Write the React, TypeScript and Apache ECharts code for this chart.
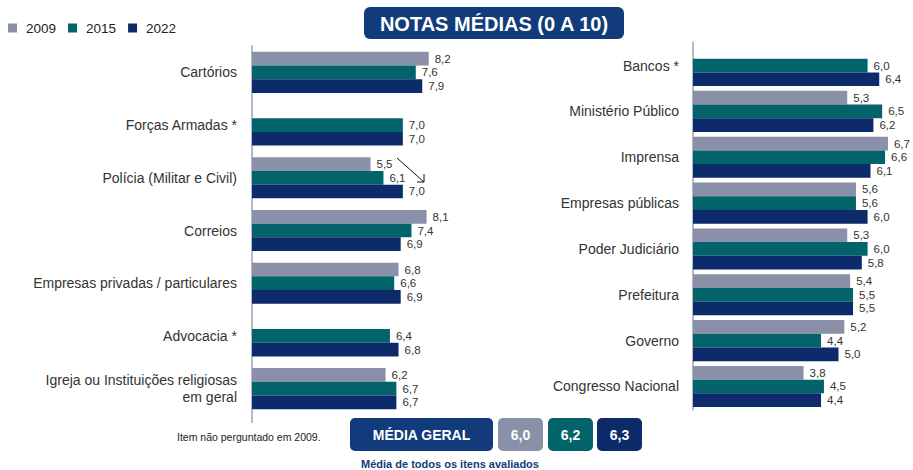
import React, { useEffect, useRef } from "react";
import * as echarts from "echarts";

const years = ["2009", "2015", "2022"];
const colors = ["#8990a8", "#03636a", "#0d2a6b"];

const leftCategories = [
  "Cartórios",
  "Forças Armadas *",
  "Polícia (Militar e Civil)",
  "Correios",
  "Empresas privadas / particulares",
  "Advocacia *",
  "Igreja ou Instituições religiosas\nem geral",
];
const left2009: (number | null)[] = [8.2, null, 5.5, 8.1, 6.8, null, 6.2];
const left2015: (number | null)[] = [7.6, 7.0, 6.1, 7.4, 6.6, 6.4, 6.7];
const left2022: (number | null)[] = [7.9, 7.0, 7.0, 6.9, 6.9, 6.8, 6.7];

const rightCategories = [
  "Bancos *",
  "Ministério Público",
  "Imprensa",
  "Empresas públicas",
  "Poder Judiciário",
  "Prefeitura",
  "Governo",
  "Congresso Nacional",
];
const right2009: (number | null)[] = [null, 5.3, 6.7, 5.6, 5.3, 5.4, 5.2, 3.8];
const right2015: (number | null)[] = [6.0, 6.5, 6.6, 5.6, 6.0, 5.5, 4.4, 4.5];
const right2022: (number | null)[] = [6.4, 6.2, 6.1, 6.0, 5.8, 5.5, 5.0, 4.4];

const mediaGeral = [6.0, 6.2, 6.3];

const FONT = "'Liberation Sans', Arial, sans-serif";
const TITLE_BG = "#113b7a";
const fmt = (v: number) => v.toFixed(1).replace(".", ",");

export default function App() {
  const ref = useRef<HTMLDivElement>(null);

  useEffect(() => {
    if (!ref.current) return;
    const chart = echarts.init(ref.current, undefined, { renderer: "svg" });

    const mk = (name: string, data: (number | null)[], idx: number, gi: number) => ({
      name,
      type: "bar",
      xAxisIndex: gi,
      yAxisIndex: gi,
      data: data.map((v) => (v == null ? "-" : v)),
      barWidth: 13.7,
      barGap: "0%",
      itemStyle: { color: colors[idx] },
      label: {
        show: true,
        position: "right",
        distance: 6,
        fontSize: 11.5,
        fontFamily: FONT,
        color: "#333",
        formatter: (p: any) => (typeof p.value === "number" ? fmt(p.value) : ""),
      },
    });

    const boxX = [498, 548, 597];
    const boxes: any[] = mediaGeral.map((v, i) => ({
      type: "group",
      children: [
        {
          type: "rect",
          shape: { x: boxX[i], y: 418, width: 45, height: 33, r: 5 },
          style: { fill: colors[i] },
        },
        {
          type: "text",
          x: boxX[i] + 22.5,
          y: 434.5,
          style: {
            text: fmt(v),
            fill: "#fff",
            font: `bold 14px ${FONT}`,
            align: "center",
            verticalAlign: "middle",
          },
        },
      ],
    }));

    chart.setOption({
      animation: false,
      textStyle: { fontFamily: FONT },
      legend: {
        data: years,
        left: 3,
        top: 16,
        icon: "rect",
        itemWidth: 9,
        itemHeight: 9,
        itemGap: 12,
        textStyle: { fontSize: 13.5, color: "#222", fontFamily: FONT, padding: [0, 0, 0, 4] },
        selectedMode: false,
      },
      grid: [
        { left: 252, top: 46, width: 215.5, height: 369 },
        { left: 693, top: 42.6, width: 203.7, height: 366.8 },
      ],
      xAxis: [
        { type: "value", gridIndex: 0, min: 0, max: 10, show: false },
        { type: "value", gridIndex: 1, min: 0, max: 7, show: false },
      ],
      yAxis: [
        {
          type: "category",
          gridIndex: 0,
          inverse: true,
          data: leftCategories,
          axisTick: { show: false },
          axisLine: { show: true, lineStyle: { color: "#b4b8cb", width: 2 } },
          axisLabel: {
            fontSize: 14,
            color: "#333",
            fontFamily: FONT,
            margin: 15,
            lineHeight: 17,
            align: "right",
          },
        },
        {
          type: "category",
          gridIndex: 1,
          inverse: true,
          data: rightCategories,
          axisTick: { show: false },
          axisLine: { show: true, lineStyle: { color: "#b4b8cb", width: 2 } },
          axisLabel: {
            fontSize: 14,
            color: "#333",
            fontFamily: FONT,
            margin: 14,
            align: "right",
          },
        },
      ],
      series: [
        mk(years[0], left2009, 0, 0),
        mk(years[1], left2015, 1, 0),
        mk(years[2], left2022, 2, 0),
        mk(years[0], right2009, 0, 1),
        mk(years[1], right2015, 1, 1),
        mk(years[2], right2022, 2, 1),
      ],
      graphic: [
        {
          type: "rect",
          shape: { x: 364, y: 7, width: 260, height: 32, r: 6 },
          style: { fill: TITLE_BG },
        },
        {
          type: "text",
          x: 494,
          y: 23.5,
          style: {
            text: "NOTAS MÉDIAS (0 A 10)",
            fill: "#fff",
            font: `bold 20px ${FONT}`,
            align: "center",
            verticalAlign: "middle",
          },
        },
        {
          type: "line",
          shape: { x1: 252, y1: 415, x2: 252, y2: 423 },
          style: { stroke: "#b4b8cb", lineWidth: 2 },
        },
        {
          type: "line",
          shape: { x1: 397, y1: 158, x2: 424, y2: 182 },
          style: { stroke: "#111", lineWidth: 1 },
        },
        {
          type: "polyline",
          shape: { points: [[417, 182], [424, 182], [424, 174]] },
          style: { stroke: "#111", lineWidth: 1, fill: "none" },
        },
        {
          type: "text",
          x: 177,
          y: 437,
          style: {
            text: "Item não perguntado em 2009.",
            fill: "#222",
            font: `10.5px ${FONT}`,
            align: "left",
            verticalAlign: "middle",
          },
        },
        {
          type: "rect",
          shape: { x: 350, y: 418, width: 143, height: 33, r: 5 },
          style: { fill: TITLE_BG },
        },
        {
          type: "text",
          x: 421.5,
          y: 434.5,
          style: {
            text: "MÉDIA GERAL",
            fill: "#fff",
            font: `bold 14px ${FONT}`,
            align: "center",
            verticalAlign: "middle",
          },
        },
        ...boxes,
        {
          type: "text",
          x: 450,
          y: 464,
          style: {
            text: "Média de todos os itens avaliados",
            fill: TITLE_BG,
            font: `bold 11px ${FONT}`,
            align: "center",
            verticalAlign: "middle",
          },
        },
      ],
    });

    return () => chart.dispose();
  }, []);

  return (
    <div
      ref={ref}
      style={{ position: "fixed", left: 0, top: 0, width: 913, height: 470, background: "#fff" }}
    />
  );
}
